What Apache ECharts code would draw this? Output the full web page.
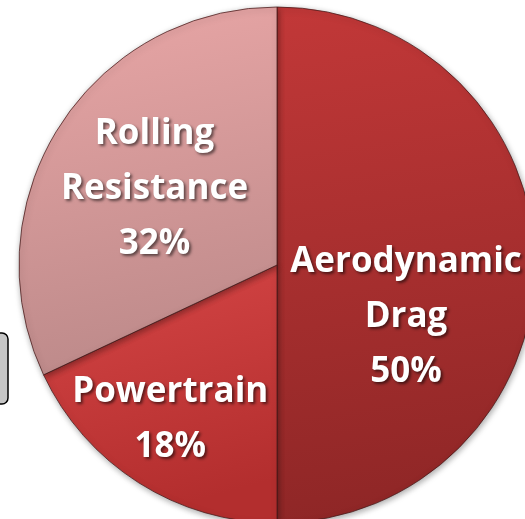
<!DOCTYPE html>
<html>
<head>
<meta charset="utf-8">
<script src="https://cdn.jsdelivr.net/npm/echarts@6/dist/echarts.min.js"></script>
<style>
html,body{margin:0;padding:0;background:#fff;}
#chart{width:525px;height:519px;}
</style>
</head>
<body>
<div id="chart"></div>
<script>
const categories = ['Aerodynamic\nDrag', 'Powertrain', 'Rolling\nResistance'];
const values = [50, 18, 32];
const topColors = ['#c23838', '#d64646', '#e9a6a6'];
const bottomColors = ['#8e2626', '#b32e2e', '#bd8a8a'];
const labelShift = [[-3, 52], [-36, 43], [-11, -5]];

const chart = echarts.init(document.getElementById('chart'));
const data = categories.map((c, i) => ({
  name: c,
  value: values[i],
  itemStyle: {
    color: new echarts.graphic.LinearGradient(0, 0, 0.3, 1, [
      {offset: 0, color: topColors[i]},
      {offset: 1, color: bottomColors[i]}
    ])
  }
}));

chart.setOption({
  animation: false,
  graphic: [{
    type: 'rect',
    shape: {x: -12, y: 333, width: 20, height: 71, r: 6},
    style: {fill: '#c6c6c6', stroke: '#000', lineWidth: 1.5}
  }],
  series: [{
    type: 'pie',
    center: [277, 265],
    radius: 258,
    startAngle: 90,
    clockwise: true,
    data: data,
    itemStyle: {
      borderColor: 'rgba(70,25,25,0.75)',
      borderWidth: 1,
      shadowBlur: 6,
      shadowColor: 'rgba(0,0,0,0.35)',
      shadowOffsetX: 1,
      shadowOffsetY: 2
    },
    label: {
      show: true,
      position: 'inside',
      formatter: p => p.name + '\n' + p.value + '%',
      color: '#ffffff',
      fontFamily: 'Open Sans',
      fontWeight: 'bold',
      fontSize: 35,
      lineHeight: 55,
      align: 'center',
      textShadowColor: 'rgba(0,0,0,0.55)',
      textShadowBlur: 3,
      textShadowOffsetX: 2,
      textShadowOffsetY: 2
    },
    labelLine: {show: false},
    labelLayout: function (p) {
      const s = labelShift[p.dataIndex];
      return {dx: s[0], dy: s[1]};
    },
    emphasis: {disabled: true}
  }]
});
</script>
</body>
</html>
